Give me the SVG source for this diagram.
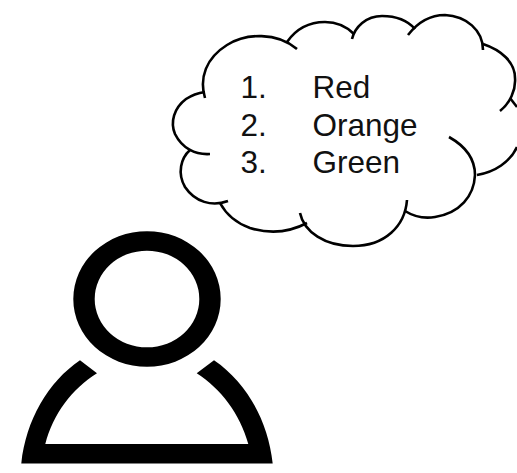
<svg xmlns="http://www.w3.org/2000/svg" width="517" height="473" viewBox="0 0 517 473">
<style>
.c{fill:none;stroke:#000;stroke-width:2.6;stroke-linecap:butt}
.t{font-family:"Liberation Sans",Arial,sans-serif;font-size:31.500px;fill:#111}
</style>
<rect width="517" height="473" fill="#fff"/>
<g id="cloud">
<path class="c" d="M205 98C199 78 206 58 227 45C246 33 277 32 297 49"/>
<path class="c" d="M287 42C296 29 309 22 325 22C338 22 347 27 354 34"/>
<path class="c" d="M352 39C355 27 366 16 382 16C396 16 408 21 415 29"/>
<path class="c" d="M408 35C418 22 430 15 445 15C466 16 483 30 483 50"/>
<path class="c" d="M483 44C501 50 515 62 515 78C516 90 510 103 500 111"/>
<path class="c" d="M510 98L517 107"/>
<path class="c" d="M449 137C465 146 475 158 475 175C474 196 460 213 435 217C423 219 413 216 405 211"/>
<path class="c" d="M477 175C495 172 510 162 517 147"/>
<path class="c" d="M407 200C405 226 385 246 353 246C325 246 304 232 300 213"/>
<path class="c" d="M307 223C290 232 270 234 250 228C236 223 226 214 220 203"/>
<path class="c" d="M228 201C212 207 195 202 185 187C177 173 181 158 190 150"/>
<path class="c" d="M210 154C195 155 182 148 175 134C170 122 174 108 186 99C192 95 198 93 205 92"/>
</g>
<g id="labels">
<text class="t" x="240.500" y="98">1.</text><text class="t" x="312.500" y="98">Red</text>
<text class="t" x="240.500" y="135.500">2.</text><text class="t" x="312.500" y="135.500">Orange</text>
<text class="t" x="240.500" y="173">3.</text><text class="t" x="312.500" y="173">Green</text>
</g>
<g id="person">
<path fill-rule="evenodd" d="M73.300 299a73.700 67.800 0 1 0 147.400 0a73.700 67.800 0 1 0-147.400 0ZM94.700 299a52.300 48.300 0 1 0 104.600 0a52.300 48.300 0 1 0-104.600 0Z"/>
<path d="M21.300 463.500C26 420 48 382 80 360.300L97 373.300C72 389 53 414 45.300 444H248.300C240 414 221 389 196.700 373.300L214 360.300C246 382 268 420 272.700 463.500Z"/>
</g>
</svg>
